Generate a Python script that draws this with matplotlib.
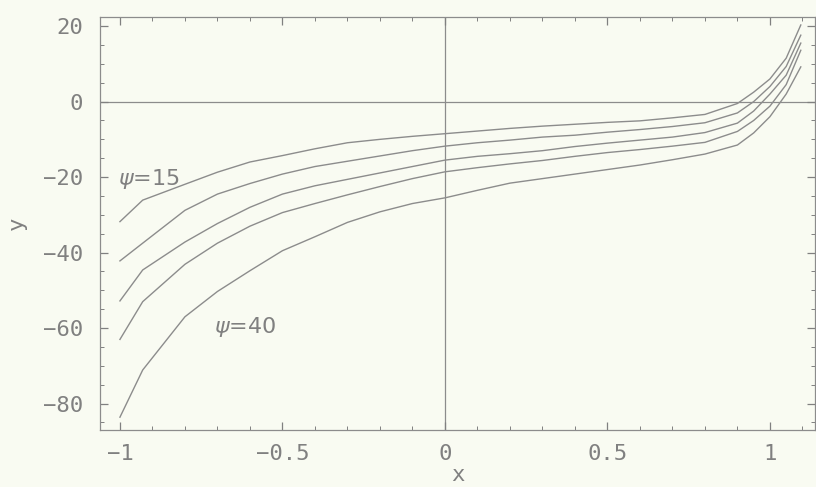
import matplotlib
matplotlib.use("Agg")
import matplotlib.pyplot as plt
from matplotlib.ticker import MultipleLocator, FuncFormatter

x = [-1, -0.93, -0.8, -0.7, -0.6, -0.5, -0.4, -0.3, -0.2, -0.1, 0, 0.1, 0.2,
     0.3, 0.4, 0.5, 0.6, 0.7, 0.8, 0.9, 0.95, 1.0, 1.05, 1.095]

psi15 = [-31.8, -26.1, -21.9, -18.7, -16.0, -14.3, -12.5, -10.9, -10.0, -9.2, -8.5,
         -7.8, -7.1, -6.5, -6.0, -5.5, -5.1, -4.3, -3.4, -0.5, 2.5, 6.0, 11.5, 20.3]
psi20 = [-42.2, -37.5, -28.8, -24.5, -21.7, -19.2, -17.2, -15.8, -14.4, -13.0, -11.8,
         -10.9, -10.2, -9.4, -8.9, -8.1, -7.4, -6.6, -5.6, -3.0, 0.0, 4.0, 9.3, 17.6]
psi25 = [-52.8, -44.6, -37.2, -32.3, -28.0, -24.5, -22.3, -20.6, -18.9, -17.2, -15.5,
         -14.5, -13.8, -13.0, -11.9, -11.0, -10.2, -9.4, -8.2, -5.7, -2.5, 2.0, 7.0, 15.5]
psi30 = [-63.0, -53.0, -43.1, -37.5, -33.0, -29.4, -27.0, -24.7, -22.5, -20.4, -18.6,
         -17.5, -16.5, -15.6, -14.5, -13.5, -12.7, -11.8, -10.8, -7.9, -5.0, -1.2, 4.5, 13.6]
psi40 = [-83.6, -71.1, -57.0, -50.3, -44.8, -39.5, -35.8, -32.0, -29.2, -27.0, -25.5,
         -23.5, -21.6, -20.4, -19.2, -18.0, -16.8, -15.4, -13.9, -11.5, -8.3, -4.0, 2.0, 9.2]

curves = [psi15, psi20, psi25, psi30, psi40]

xticks = [-1, -0.5, 0, 0.5, 1]
xtick_labels = ["-1", "-0.5", "0", "0.5", "1"]
yticks = [-80, -60, -40, -20, 0, 20]

bg = "#f9fbf2"
ink = "#808080"
linec = "#8c8c8c"

plt.rcParams['font.family'] = ['DejaVu Sans Mono', 'DejaVu Sans']

fig = plt.figure(figsize=(8.16, 4.87), dpi=100, facecolor=bg)
ax = fig.add_axes([0.1225, 0.117, 0.876, 0.848])
ax.set_facecolor(bg)

for c in curves:
    ax.plot(x, c, color=linec, lw=1.0)

ax.axhline(0, color=linec, lw=0.9, zorder=0)
ax.axvline(0, color=linec, lw=0.9, zorder=0)

ax.set_xlim(-1.0615, 1.138)
ax.set_ylim(-87.0, 22.4)

ax.set_xticks(xticks)
ax.set_xticklabels([s.replace("-", "\u2212") for s in xtick_labels])
ax.set_yticks(yticks)
ax.yaxis.set_major_formatter(FuncFormatter(lambda v, p: f"{v:g}".replace("-", "\u2212")))
ax.xaxis.set_minor_locator(MultipleLocator(0.1))
ax.yaxis.set_minor_locator(MultipleLocator(5))

ax.tick_params(which='both', direction='in', top=True, right=True, color=ink,
               labelcolor=ink, labelsize=16)
ax.tick_params(which='major', length=6, width=0.9)
ax.tick_params(which='minor', length=3, width=0.7)
ax.tick_params(axis='x', pad=10)
ax.tick_params(axis='y', pad=12)

for s in ax.spines.values():
    s.set_color(linec)
    s.set_linewidth(0.9)

ax.set_xlabel("x", color=ink, fontsize=16, labelpad=1)
ax.set_ylabel("y", color=ink, fontsize=16, labelpad=12)

ax.text(-1.006, -20.5, r"$\psi$=15", color=ink, fontsize=16, va='center', ha='left',
        family=['DejaVu Sans'])
ax.text(-0.71, -59.7, r"$\psi$=40", color=ink, fontsize=16, va='center', ha='left',
        family=['DejaVu Sans'])

fig.savefig("out.png", dpi=100, facecolor=bg)
